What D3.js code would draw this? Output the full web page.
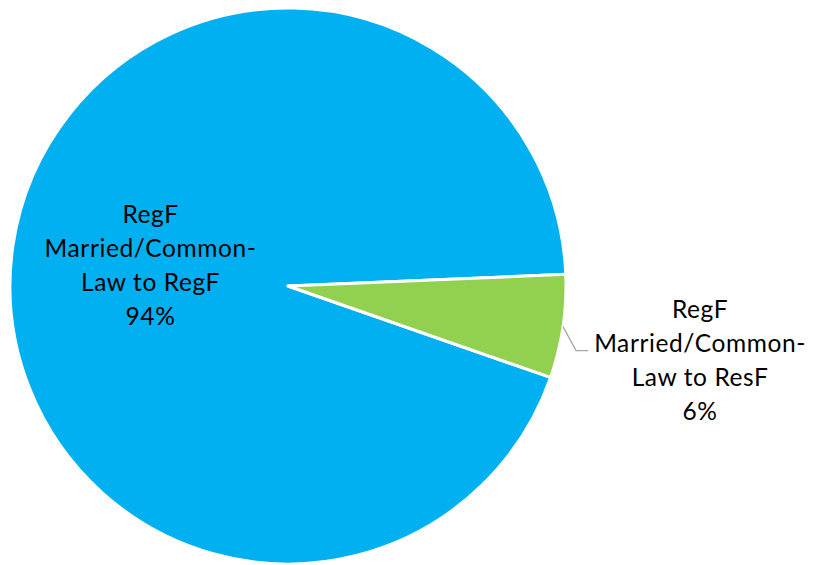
<!DOCTYPE html>
<html>
<head>
<meta charset="utf-8">
<script src="https://cdn.jsdelivr.net/npm/d3@7"></script>
<style>
  body { margin: 0; background: #fff; }
  text { font-family: Lato, "Open Sans", sans-serif; fill: #000; }
</style>
</head>
<body>
<div id="chart"></div>
<script>
var labels = [
    ["RegF", "Married/Common-", "Law to RegF"],
    ["RegF", "Married/Common-", "Law to ResF"]
];
var values = [94, 6];
var colors = ["#00B0F0", "#92D050"];

var width = 815, height = 565,
    cx = 288, cy = 286, radius = 278,
    first_angle = 109.2 * Math.PI / 180,
    pct = d3.format(".0%");

var data = values.map(function(v, i) {
    return {value: v, label: labels[i], color: colors[i]};
});
var total = d3.sum(values);

var svg = d3.select("#chart").append("svg")
    .attr("width", width)
    .attr("height", height);

var g = svg.append("g")
    .attr("transform", "translate(" + cx + "," + cy + ")");

var pie = d3.pie()
    .sort(null)
    .value(function(d) { return d.value; })
    .startAngle(first_angle)
    .endAngle(first_angle + 2 * Math.PI);

var arc = d3.arc()
    .innerRadius(0)
    .outerRadius(radius);

var arcs = pie(data);

g.selectAll("path.slice").data(arcs)
    .enter().append("path")
    .attr("class", "slice")
    .attr("d", arc)
    .style("fill", function(d) { return d.data.color; })
    .style("stroke", "#fff")
    .style("stroke-width", 3)
    .style("stroke-linejoin", "round");

var line_h = 34;

function drawLabel(x, y, d) {
    var lines = d.data.label.concat([pct(d.data.value / total)]);
    var t = g.append("text")
        .attr("text-anchor", "middle")
        .style("font-size", "24.5px")
        .style("letter-spacing", "0.6px");
    lines.forEach(function(s, i) {
        t.append("tspan")
            .attr("x", x)
            .attr("y", y + (i - (lines.length - 1) / 2) * line_h)
            .attr("dy", "0.35em")
            .text(s);
    });
}

// big slice: label inside
var big = arcs[0];
var inner = d3.arc().innerRadius(radius * 0.5).outerRadius(radius * 0.5);
var c0 = inner.centroid(big);
drawLabel(c0[0], c0[1], big);

// small slice: label outside with leader
var small = arcs[1];
var edge = d3.arc().innerRadius(radius).outerRadius(radius).centroid(small);
var bend = [edge[0] + 13, edge[1] + 24];
var tail = [bend[0] + 12, bend[1]];

g.append("polyline")
    .attr("points", [edge, bend, tail].map(function(p) { return p.join(","); }).join(" "))
    .style("fill", "none")
    .style("stroke", "#A6A6A6")
    .style("stroke-width", 1.3);

drawLabel(tail[0] + 112, tail[1] + 10, small);
</script>
</body>
</html>
